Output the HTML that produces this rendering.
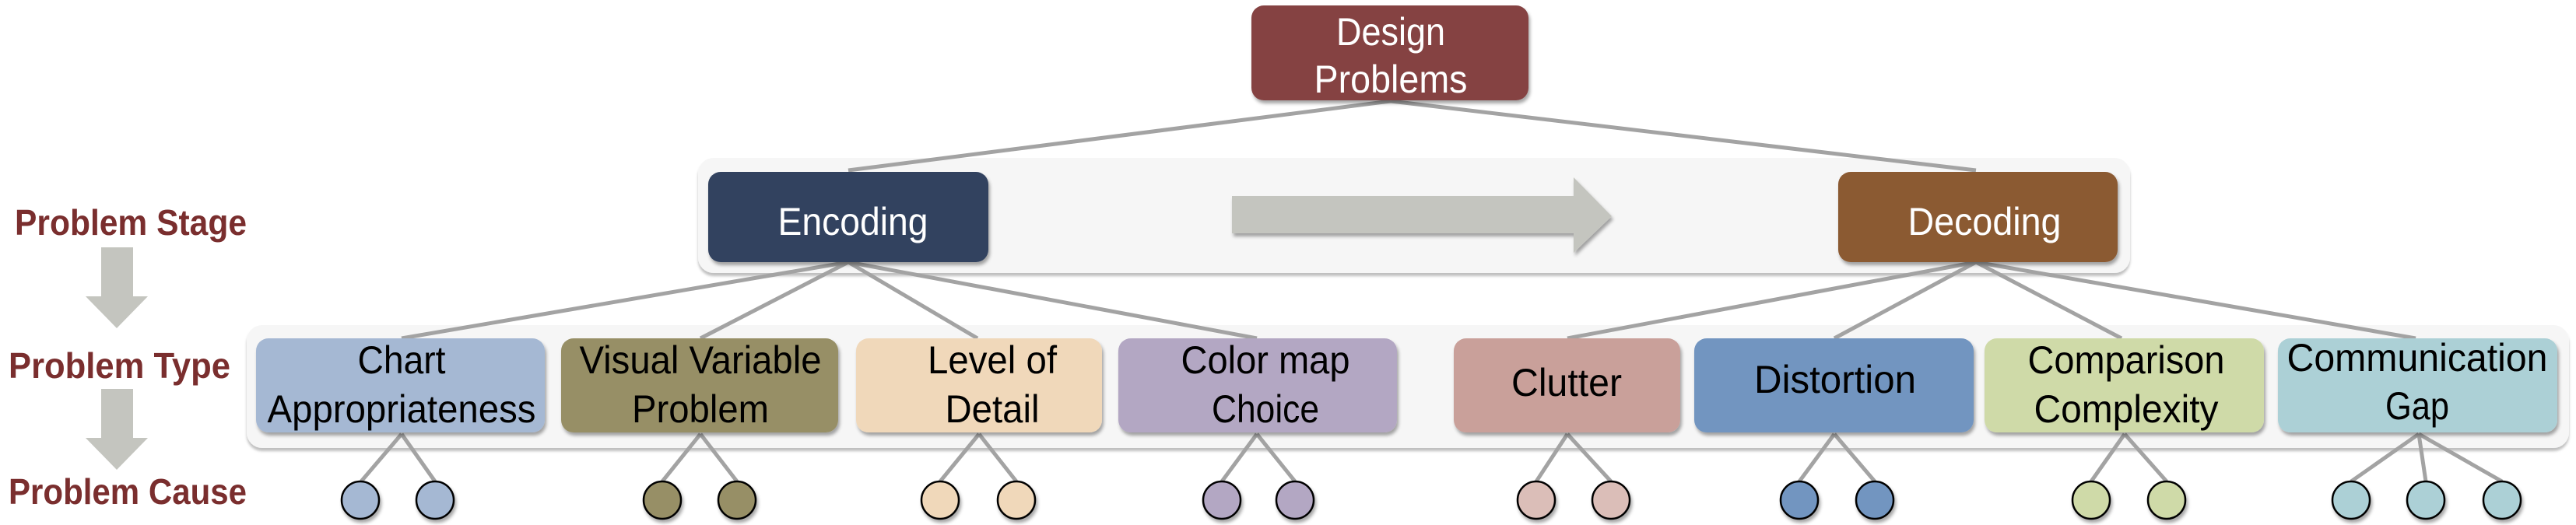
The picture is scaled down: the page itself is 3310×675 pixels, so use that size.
<!DOCTYPE html>
<html><head><meta charset="utf-8"><style>
html,body{margin:0;padding:0;background:#fff;width:3310px;height:675px;overflow:hidden}
svg{display:block}
text{font-family:"Liberation Sans",sans-serif}
</style></head><body>
<svg width="3310" height="675" viewBox="0 0 3310 675" xmlns="http://www.w3.org/2000/svg">
<defs>
<filter id="sh" x="-5%" y="-5%" width="115%" height="130%"><feDropShadow dx="2" dy="4" stdDeviation="2" flood-color="#000" flood-opacity="0.35"/></filter>
<filter id="psh" x="-2%" y="-5%" width="104%" height="115%"><feDropShadow dx="0" dy="4" stdDeviation="1.5" flood-color="#000" flood-opacity="0.25"/></filter>
</defs>
<rect x="897" y="203" width="1840" height="148" rx="20" fill="#f6f6f6" filter="url(#psh)"/>
<rect x="317" y="418" width="2984" height="158" rx="20" fill="#f6f6f6" filter="url(#psh)"/>

<g stroke="#a3a3a3" stroke-width="5" fill="none">
<line x1="1787" y1="130" x2="1090" y2="219"/>
<line x1="1787" y1="130" x2="2539" y2="219"/>
<line x1="1090" y1="337" x2="516" y2="435"/>
<line x1="1090" y1="337" x2="900" y2="435"/>
<line x1="1090" y1="337" x2="1256" y2="435"/>
<line x1="1090" y1="337" x2="1615" y2="435"/>
<line x1="2539" y1="337" x2="2014" y2="435"/>
<line x1="2539" y1="337" x2="2357" y2="435"/>
<line x1="2539" y1="337" x2="2726" y2="435"/>
<line x1="2539" y1="337" x2="3104" y2="435"/>
<line x1="516" y1="558" x2="464" y2="619"/><line x1="516" y1="558" x2="559" y2="619"/>
<line x1="900" y1="558" x2="851" y2="619"/><line x1="900" y1="558" x2="947" y2="619"/>
<line x1="1258" y1="558" x2="1208" y2="619"/><line x1="1258" y1="558" x2="1306" y2="619"/>
<line x1="1615" y1="558" x2="1570" y2="619"/><line x1="1615" y1="558" x2="1664" y2="619"/>
<line x1="2014" y1="558" x2="1974" y2="619"/><line x1="2014" y1="558" x2="2070" y2="619"/>
<line x1="2357" y1="558" x2="2312" y2="619"/><line x1="2357" y1="558" x2="2409" y2="619"/>
<line x1="2730" y1="558" x2="2687" y2="619"/><line x1="2730" y1="558" x2="2784" y2="619"/>
<line x1="3108" y1="558" x2="3021" y2="619"/><line x1="3108" y1="558" x2="3117" y2="619"/><line x1="3108" y1="558" x2="3215" y2="619"/>
</g>

<polygon points="1583,252 2022,252 2022,228 2071,278 2022,325 2022,300 1583,300" fill="#c4c5bf" filter="url(#sh)"/>

<polygon points="130,318 171,318 171,381 190,381 150,422 110,381 130,381" fill="#c4c5bf"/>
<polygon points="130,500 171,500 171,563 190,563 150,604 110,563 130,563" fill="#c4c5bf"/>

<g fill="#7a2e2e" font-weight="bold" font-size="46">
<text x="19" y="302" textLength="298" lengthAdjust="spacingAndGlyphs">Problem Stage</text>
<text x="11" y="486" textLength="285" lengthAdjust="spacingAndGlyphs">Problem Type</text>
<text x="11" y="648" textLength="306" lengthAdjust="spacingAndGlyphs">Problem Cause</text>
</g>

<g filter="url(#sh)">
<rect x="1608" y="7" width="356" height="122" rx="16" fill="#854343"/>
<rect x="910" y="221" width="360" height="116" rx="16" fill="#31425f"/>
<rect x="2362" y="221" width="359" height="116" rx="16" fill="#8b5a33"/>
<rect x="329" y="435" width="371" height="121" rx="16" fill="#a5b8d3"/>
<rect x="721" y="435" width="356" height="121" rx="16" fill="#978f66"/>
<rect x="1100" y="435" width="316" height="121" rx="16" fill="#f0d8ba"/>
<rect x="1437" y="435" width="358" height="121" rx="16" fill="#b3a7c3"/>
<rect x="1868" y="435" width="291" height="121" rx="16" fill="#c9a09a"/>
<rect x="2177" y="435" width="359" height="121" rx="16" fill="#7295c0"/>
<rect x="2550" y="435" width="359" height="121" rx="16" fill="#cfdaa8"/>
<rect x="2927" y="435" width="359" height="121" rx="16" fill="#acd0d6"/>
</g>

<g stroke="#000" stroke-width="2.5" filter="url(#sh)">
<ellipse cx="463" cy="643" rx="24" ry="24" fill="#a5b8d3"/><ellipse cx="559" cy="643" rx="24" ry="24" fill="#a5b8d3"/>
<ellipse cx="851" cy="643" rx="24" ry="24" fill="#978f66"/><ellipse cx="947" cy="643" rx="24" ry="24" fill="#978f66"/>
<ellipse cx="1208" cy="643" rx="24" ry="24" fill="#f0d8ba"/><ellipse cx="1306" cy="643" rx="24" ry="24" fill="#f0d8ba"/>
<ellipse cx="1570" cy="643" rx="24" ry="24" fill="#b3a7c3"/><ellipse cx="1664" cy="643" rx="24" ry="24" fill="#b3a7c3"/>
<ellipse cx="1974" cy="643" rx="24" ry="24" fill="#dbbeb8"/><ellipse cx="2070" cy="643" rx="24" ry="24" fill="#dbbeb8"/>
<ellipse cx="2312" cy="643" rx="24" ry="24" fill="#7295c0"/><ellipse cx="2409" cy="643" rx="24" ry="24" fill="#7295c0"/>
<ellipse cx="2687" cy="643" rx="24" ry="24" fill="#cfdaa8"/><ellipse cx="2784" cy="643" rx="24" ry="24" fill="#cfdaa8"/>
<ellipse cx="3021" cy="643" rx="24" ry="24" fill="#acd0d6"/><ellipse cx="3117" cy="643" rx="24" ry="24" fill="#acd0d6"/><ellipse cx="3215" cy="643" rx="24" ry="24" fill="#acd0d6"/>
</g>

<g font-size="50" text-anchor="middle">
<g fill="#fff">
<text x="1787" y="58" textLength="140" lengthAdjust="spacingAndGlyphs">Design</text>
<text x="1787" y="119" textLength="197" lengthAdjust="spacingAndGlyphs">Problems</text>
<text x="1096" y="302" textLength="193" lengthAdjust="spacingAndGlyphs">Encoding</text>
<text x="2550" y="302" textLength="197" lengthAdjust="spacingAndGlyphs">Decoding</text>
</g>
<g fill="#000">
<text x="516" y="480" textLength="113" lengthAdjust="spacingAndGlyphs">Chart</text>
<text x="516" y="543" textLength="345" lengthAdjust="spacingAndGlyphs">Appropriateness</text>
<text x="900" y="480" textLength="311" lengthAdjust="spacingAndGlyphs">Visual Variable</text>
<text x="900" y="543" textLength="176" lengthAdjust="spacingAndGlyphs">Problem</text>
<text x="1275" y="480" textLength="166" lengthAdjust="spacingAndGlyphs">Level of</text>
<text x="1275" y="543" textLength="121" lengthAdjust="spacingAndGlyphs">Detail</text>
<text x="1626" y="480" textLength="217" lengthAdjust="spacingAndGlyphs">Color map</text>
<text x="1626" y="543" textLength="138" lengthAdjust="spacingAndGlyphs">Choice</text>
<text x="2013" y="509" textLength="142" lengthAdjust="spacingAndGlyphs">Clutter</text>
<text x="2358" y="505" textLength="208" lengthAdjust="spacingAndGlyphs">Distortion</text>
<text x="2732" y="480" textLength="253" lengthAdjust="spacingAndGlyphs">Comparison</text>
<text x="2732" y="543" textLength="237" lengthAdjust="spacingAndGlyphs">Complexity</text>
<text x="3106" y="477" textLength="335" lengthAdjust="spacingAndGlyphs">Communication</text>
<text x="3106" y="539" textLength="82" lengthAdjust="spacingAndGlyphs">Gap</text>
</g>
</g>
</svg>
</body></html>
